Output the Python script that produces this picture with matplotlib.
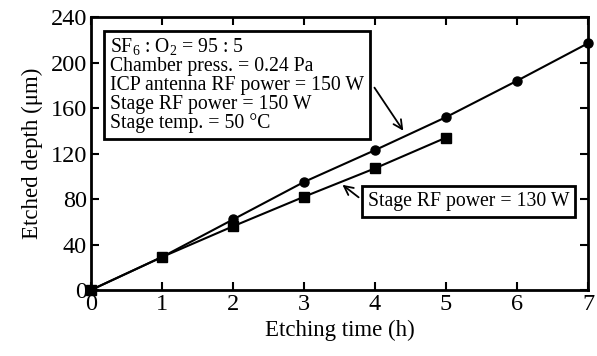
import matplotlib
matplotlib.use("Agg")
import matplotlib.pyplot as plt

plt.rcParams['font.family'] = ['Liberation Serif', 'DejaVu Serif']
plt.rcParams['mathtext.fontset'] = 'custom'
plt.rcParams['mathtext.rm'] = 'Liberation Serif'
plt.rcParams['mathtext.it'] = 'Liberation Serif:italic'

time_150 = [0, 1, 2, 3, 4, 5, 6, 7]
depth_150 = [0, 29, 62, 95, 123, 152, 184, 217]
time_130 = [0, 1, 2, 3, 4, 5]
depth_130 = [0, 29, 56, 82, 107, 134]
xticks = [0, 1, 2, 3, 4, 5, 6, 7]
yticks = [0, 40, 80, 120, 160, 200, 240]

fig = plt.figure(figsize=(5.97, 3.56), dpi=100)
ax = fig.add_axes([0.1524, 0.1854, 0.8326, 0.7666])

ax.plot(time_150, depth_150, color='black', lw=1.5, marker='o', ms=6.5, clip_on=False, zorder=3)
ax.plot(time_130, depth_130, color='black', lw=1.5, marker='s', ms=6.5, clip_on=False, zorder=3)

ax.set_xlim(0, 7)
ax.set_ylim(0, 240)
ax.set_xticks(xticks)
ax.set_yticks(yticks)
ax.tick_params(direction='in', length=6, width=1.5, labelsize=17.5, top=True, right=True,
               labeltop=False, labelright=False, pad=3)
for s in ax.spines.values():
    s.set_linewidth(2)
ax.set_xlabel('Etching time (h)', fontsize=16.5, labelpad=3)
ax.set_ylabel('Etched depth (μm)', fontsize=16.5, labelpad=5)

txt = ("SF$_6$ : O$_2$ = 95 : 5\n"
       "Chamber press. = 0.24 Pa\n"
       "ICP antenna RF power = 150 W\n"
       "Stage RF power = 150 W\n"
       "Stage temp. = 50 °C")
ax.text(0.27, 223, txt, fontsize=14.2, va='top', ha='left', linespacing=0.98,
        bbox=dict(boxstyle='square,pad=0.3', fc='white', ec='black', lw=2))
ax.annotate('', xy=(4.42, 138), xytext=(3.97, 180),
            arrowprops=dict(arrowstyle='->', color='black', lw=1.3, mutation_scale=16))

ax.text(3.9, 78, 'Stage RF power = 130 W', fontsize=14.2, va='center', ha='left',
        bbox=dict(boxstyle='square,pad=0.3', fc='white', ec='black', lw=2))
ax.annotate('', xy=(3.51, 94), xytext=(3.8, 80),
            arrowprops=dict(arrowstyle='->', color='black', lw=1.3, mutation_scale=16))

fig.savefig('out.png', dpi=100)
